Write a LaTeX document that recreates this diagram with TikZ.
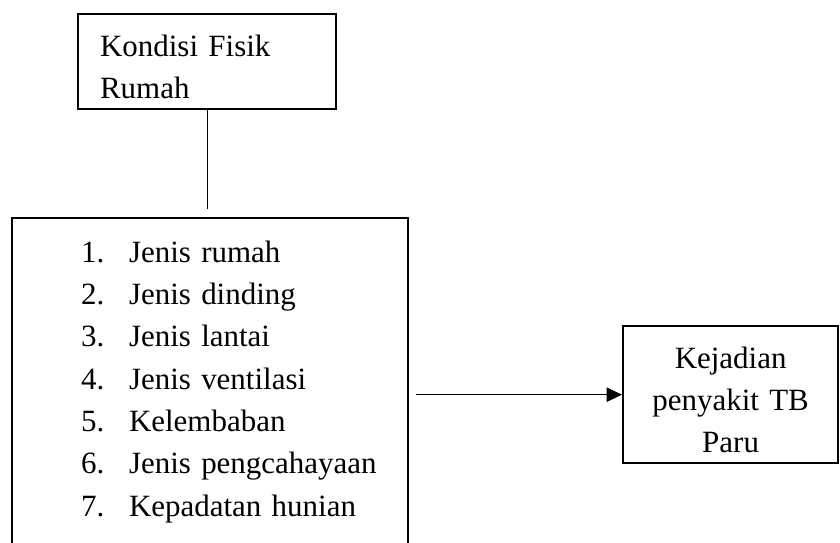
\documentclass[tikz,border=0pt]{standalone}
\usepackage{fontspec}
\setmainfont{Liberation Serif}
\usetikzlibrary{arrows.meta,positioning}

\newcommand{\butir}[2]{\hspace*{26.7pt}\makebox[18.6pt][l]{#1.}#2}

\begin{document}
\begin{tikzpicture}[x=0.3876pt, y=-0.3876pt,
    kotak/.style = {draw, line width=0.9pt, inner xsep=0pt, inner ysep=0pt, font=\fontsize{12}{16.4}\selectfont},
    garis/.style = {line width=0.5pt},
    panah/.style = {-{Triangle[length=6pt, width=5.6pt]}, line width=0.5pt}]
    \useasboundingbox (0,0) rectangle (840,542);

    \node[kotak, anchor=north west, text width=100pt, align=left, text height=16.3pt, text depth=20.5pt] (fisik) at (77,13)
        {\hspace*{8.5pt}Kondisi Fisik\\\hspace*{8.5pt}Rumah};
    \node[kotak, anchor=north west, text width=153.5pt, align=left, text height=17.1pt, text depth=116pt] (faktor) at (11,217)
        {\butir{1}{Jenis rumah}\\
         \butir{2}{Jenis dinding}\\
         \butir{3}{Jenis lantai}\\
         \butir{4}{Jenis ventilasi}\\
         \butir{5}{Kelembaban}\\
         \butir{6}{Jenis pengcahayaan}\\
         \butir{7}{Kepadatan hunian}};
    \node[kotak, anchor=north west, text width=83.3pt, align=center, text height=16.3pt, text depth=36.8pt] (kejadian) at (622,325)
        {Kejadian\\penyakit TB\\Paru};

    \draw[garis, shorten >=3.1pt] (fisik.south) -- (fisik.south |- faktor.north);
    \draw[panah, shorten <=2.7pt] (faktor.east |- kejadian.west) -- (kejadian.west);
\end{tikzpicture}
\end{document}
